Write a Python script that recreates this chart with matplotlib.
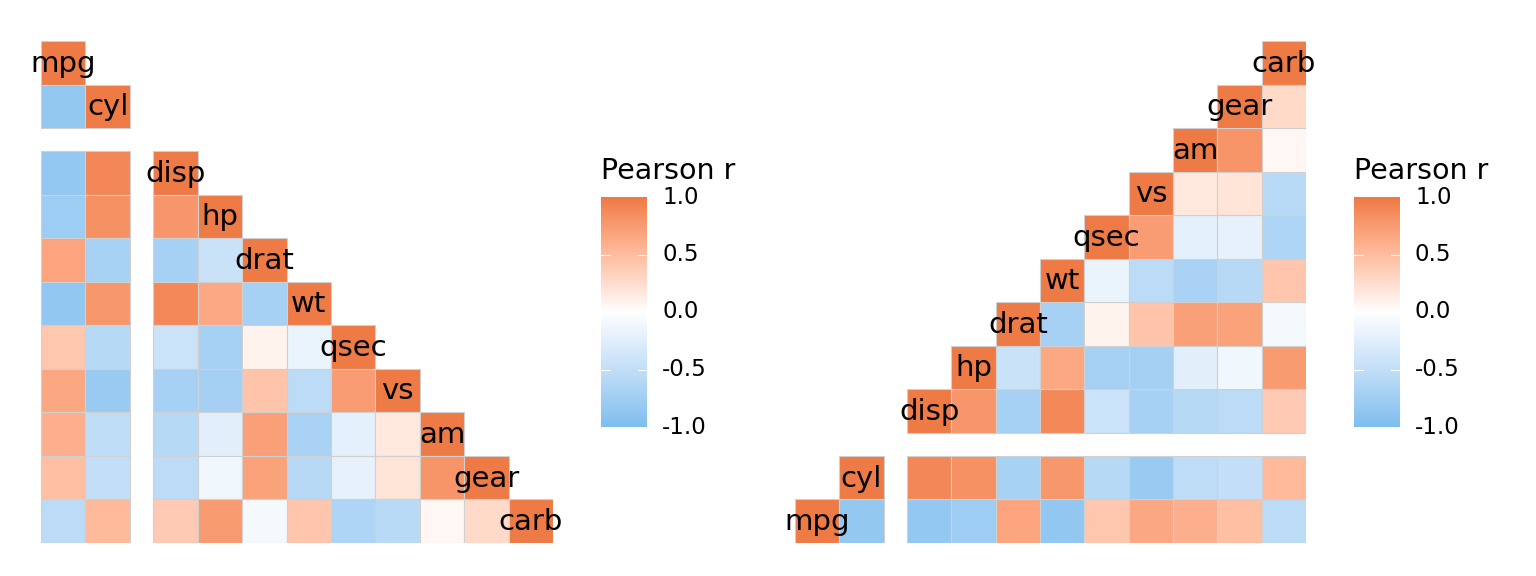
import numpy as np
import matplotlib
matplotlib.use("Agg")
import matplotlib.pyplot as plt
from matplotlib.colors import ListedColormap, Normalize, to_rgb
from matplotlib.patches import Rectangle

variables = ["mpg", "cyl", "disp", "hp", "drat", "wt", "qsec", "vs", "am", "gear", "carb"]
corr = [
    [1.000, -0.852, -0.848, -0.776, 0.681, -0.868, 0.419, 0.664, 0.600, 0.480, -0.551],
    [-0.852, 1.000, 0.902, 0.832, -0.700, 0.782, -0.591, -0.811, -0.523, -0.493, 0.527],
    [-0.848, 0.902, 1.000, 0.791, -0.710, 0.888, -0.434, -0.710, -0.591, -0.556, 0.395],
    [-0.776, 0.832, 0.791, 1.000, -0.449, 0.659, -0.708, -0.723, -0.243, -0.126, 0.750],
    [0.681, -0.700, -0.710, -0.449, 1.000, -0.712, 0.091, 0.440, 0.713, 0.700, -0.091],
    [-0.868, 0.782, 0.888, 0.659, -0.712, 1.000, -0.175, -0.555, -0.692, -0.583, 0.428],
    [0.419, -0.591, -0.434, -0.708, 0.091, -0.175, 1.000, 0.745, -0.230, -0.213, -0.656],
    [0.664, -0.811, -0.710, -0.723, 0.440, -0.555, 0.745, 1.000, 0.168, 0.206, -0.570],
    [0.600, -0.523, -0.591, -0.243, 0.713, -0.692, -0.230, 0.168, 1.000, 0.794, 0.058],
    [0.480, -0.493, -0.556, -0.126, 0.700, -0.583, -0.213, 0.206, 0.794, 1.000, 0.274],
    [-0.551, 0.527, 0.395, 0.750, -0.091, 0.428, -0.656, -0.570, 0.058, 0.274, 1.000],
]
cbar_ticks = [-1.0, -0.5, 0.0, 0.5, 1.0]
legend_title = "Pearson r"

plt.rcParams["font.family"] = ["DejaVu Sans"]

# --- Lab-space diverging colormap (like ggplot2 scale_fill_gradient2) ---
def srgb_to_lab(rgb):
    c = np.asarray(rgb, float)
    lin = np.where(c <= 0.04045, c / 12.92, ((c + 0.055) / 1.055) ** 2.4)
    M = np.array([[0.4124, 0.3576, 0.1805], [0.2126, 0.7152, 0.0722], [0.0193, 0.1192, 0.9505]])
    xyz = M @ lin / np.array([0.95047, 1.0, 1.08883])
    f = np.where(xyz > 0.008856, np.cbrt(xyz), 7.787 * xyz + 16 / 116)
    return np.array([116 * f[1] - 16, 500 * (f[0] - f[1]), 200 * (f[1] - f[2])])

def lab_to_srgb(lab):
    L, a, b = lab
    fy = (L + 16) / 116
    fx = fy + a / 500
    fz = fy - b / 200
    f = np.array([fx, fy, fz])
    xyz = np.where(f ** 3 > 0.008856, f ** 3, (f - 16 / 116) / 7.787) * np.array([0.95047, 1.0, 1.08883])
    Minv = np.array([[3.2406, -1.5372, -0.4986], [-0.9689, 1.8758, 0.0415], [0.0557, -0.2040, 1.0570]])
    lin = Minv @ xyz
    c = np.where(lin <= 0.0031308, 12.92 * lin, 1.055 * np.clip(lin, 0, None) ** (1 / 2.4) - 0.055)
    return np.clip(c, 0, 1)

low_lab = srgb_to_lab(to_rgb("#7DBFEF"))
mid_lab = srgb_to_lab(to_rgb("#FFFFFF"))
high_lab = srgb_to_lab(to_rgb("#EE7A45"))
samples = []
for t in np.linspace(0, 1, 512):
    if t < 0.5:
        u = t / 0.5
        samples.append(lab_to_srgb(low_lab + (mid_lab - low_lab) * u))
    else:
        u = (t - 0.5) / 0.5
        samples.append(lab_to_srgb(mid_lab + (high_lab - mid_lab) * u))
cmap = ListedColormap(samples)
norm = Normalize(-1, 1)

W, H = 1536, 576
fig = plt.figure(figsize=(15.36, 5.76), dpi=100)

def px_axes(x0, y0, x1, y1):
    return fig.add_axes([x0 / W, 1 - y1 / H, (x1 - x0) / W, (y1 - y0) / H])

n = len(variables)
gap = 0.53

def colpos(i):
    return i + (gap if i >= 2 else 0)

def draw_panel(ax, lower):
    M = np.array(corr)
    for r in range(n):
        for c in range(n):
            if lower and c > r:
                continue
            if (not lower) and c < r:
                continue
            x = colpos(c)
            if lower:
                y = colpos(r)
            else:
                y = (10 - r) if r >= 2 else (r == 1) * (9 + gap) + (r == 0) * (10 + gap)
            ax.add_patch(Rectangle((x, y), 1, 1, facecolor=cmap(norm(M[r, c])),
                                   edgecolor="#D0D0D0", linewidth=0.8))
            if r == c:
                ax.text(x + 0.5, y + 0.52, variables[r], ha="center", va="center",
                        fontsize=21, color="black", zorder=5)
    ax.set_xlim(0, n + gap)
    ax.set_ylim(n + gap, 0)
    ax.axis("off")

axL = px_axes(41, 41, 553, 543)
draw_panel(axL, True)
axR = px_axes(795, 41, 1306, 543)
draw_panel(axR, False)

def draw_cbar(x0):
    cax = px_axes(x0, 197, x0 + 46, 427)
    grad = np.linspace(-1, 1, 256).reshape(-1, 1)
    cax.imshow(grad, aspect="auto", cmap=cmap, norm=norm, origin="lower",
               extent=(0, 1, -1, 1))
    for t in cbar_ticks:
        if abs(t) < 1:
            cax.plot([0, 0.2], [t, t], color="white", lw=0.8)
            cax.plot([0.8, 1], [t, t], color="white", lw=0.8)
        fig.text((x0 + 61) / W, 1 - (427 - (t + 1) / 2 * 230) / H, f"{t:.1f}",
                 ha="left", va="center", fontsize=16.5)
    cax.set_xlim(0, 1)
    cax.set_ylim(-1, 1)
    cax.axis("off")
    fig.text(x0 / W, 1 - 171 / H, legend_title, ha="left", va="center", fontsize=20.5)

draw_cbar(601)
draw_cbar(1354)

fig.savefig("out.png", dpi=100, facecolor="white")
